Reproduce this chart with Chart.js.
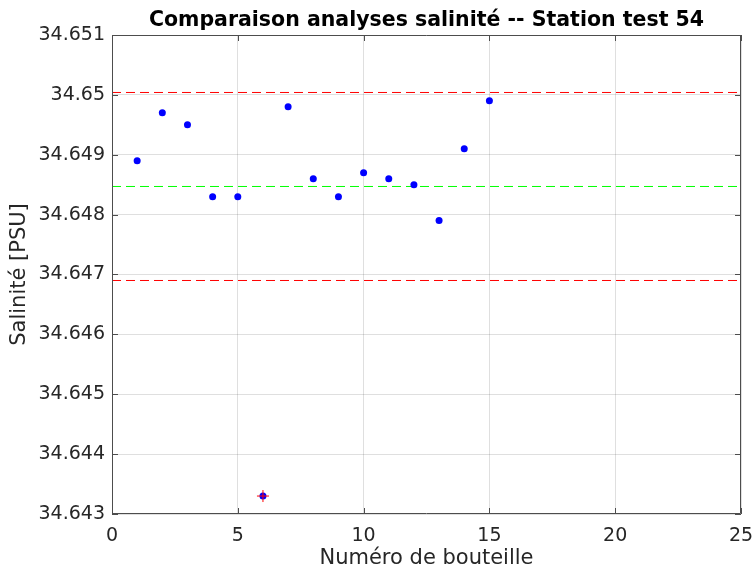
<!DOCTYPE html>
<html>
<head>
<meta charset="utf-8">
<title>Comparaison analyses salinité</title>
<script src="https://cdn.jsdelivr.net/npm/chart.js@4/dist/chart.umd.min.js"></script>
<style>
    html, body { margin: 0; padding: 0; background: #fff; }
    canvas { display: block; }
</style>
</head>
<body>
<canvas id="salinityChart" width="755" height="572"></canvas>
<script>
"use strict";

/** DATA */

// Bottle numbers and measured salinity (PSU)
const BOTTLES = [1, 2, 3, 4, 5, 6, 7, 8, 9, 10, 11, 12, 13, 14, 15];
const SALINITY = [
    34.6489, 34.6497, 34.6495, 34.6483, 34.6483,
    34.6433, 34.6498, 34.6486, 34.6483, 34.6487,
    34.6486, 34.6485, 34.6479, 34.6491, 34.6499
];

// Bottles flagged as out of range
const FLAGGED = [6];

// Reference levels: upper limit, mean, lower limit
const LIMIT_LEVELS = [34.65004, 34.64847, 34.6469];
const LIMIT_COLORS = ['#ff0000', '#00ff00', '#ff0000'];

// Axis ranges
const X_RANGE = [0, 25];
const Y_RANGE = [34.643, 34.651];
const X_STEP = 5;
const Y_STEP = 0.001;

const TITLE = 'Comparaison analyses salinité -- Station test 54';
const TEXT_COLOR = '#262626';
const AXIS_COLOR = '#4d4d4d';
const GRID_COLOR = 'rgba(38,38,38,0.15)';
const FONT = 'DejaVu Sans';


/** DATASETS */

const points = BOTTLES.map((b, i) => ({ x: b, y: SALINITY[i] }));
const flaggedPoints = points.filter(p => FLAGGED.includes(p.x));

const limitDatasets = LIMIT_LEVELS.map((level, i) => ({
    type: 'line',
    data: X_RANGE.map(x => ({ x: x, y: level })),
    borderColor: LIMIT_COLORS[i],
    borderWidth: 1,
    borderDash: [9, 5],
    pointRadius: 0,
    fill: false
}));


/** PLUGINS */

// Box around plot area with inward ticks, and a title centred on the plot
const axesBox = {
    id: 'axesBox',
    afterDraw: chart => {
        const { ctx, chartArea: a, scales: { x, y } } = chart;
        const TICK = 6;
        ctx.save();
        ctx.strokeStyle = AXIS_COLOR;
        ctx.lineWidth = 1;
        ctx.beginPath();
        ctx.rect(a.left + 0.5, a.top + 0.5, a.right - a.left - 1, a.bottom - a.top - 1);
        x.ticks.forEach(t => {
            const px = Math.round(x.getPixelForValue(t.value)) + 0.5;
            ctx.moveTo(px, a.bottom);
            ctx.lineTo(px, a.bottom - TICK);
            ctx.moveTo(px, a.top);
            ctx.lineTo(px, a.top + TICK);
        });
        y.ticks.forEach(t => {
            const py = Math.round(y.getPixelForValue(t.value)) + 0.5;
            ctx.moveTo(a.left, py);
            ctx.lineTo(a.left + TICK, py);
            ctx.moveTo(a.right, py);
            ctx.lineTo(a.right - TICK, py);
        });
        ctx.stroke();

        // Title
        ctx.fillStyle = '#000';
        ctx.font = `bold 20.5px "${ FONT }"`;
        ctx.textAlign = 'center';
        ctx.textBaseline = 'middle';
        ctx.fillText(TITLE, (a.left + a.right) / 2, 21);
        ctx.restore();
    }
};


/** INITIALIZE CHART */

Chart.defaults.font.family = FONT;
Chart.defaults.color = TEXT_COLOR;

const salinityChart = new Chart(document.getElementById('salinityChart').getContext('2d'), {
    type: 'scatter',
    data: {
        datasets: [
            {
                data: flaggedPoints,
                pointStyle: 'cross',
                pointRadius: 6,
                borderColor: '#ff0000',
                borderWidth: 1
            },
            {
                data: points,
                pointStyle: 'circle',
                pointRadius: 3.5,
                backgroundColor: '#0000ff',
                borderColor: '#0000ff',
                borderWidth: 0
            },
            ...limitDatasets
        ]
    },
    options: {
        responsive: false,
        animation: false,
        layout: {
            padding: { top: 35, right: 14, bottom: 0, left: 0 }
        },
        plugins: {
            legend: { display: false },
            tooltip: { enabled: false },
            title: { display: false }
        },
        scales: {
            x: {
                type: 'linear',
                min: X_RANGE[0],
                max: X_RANGE[1],
                ticks: {
                    stepSize: X_STEP,
                    font: { size: 19 },
                    padding: 11,
                    maxRotation: 0
                },
                grid: {
                    color: GRID_COLOR,
                    drawTicks: false
                },
                border: { display: false },
                title: {
                    display: true,
                    text: 'Numéro de bouteille',
                    font: { size: 21 },
                    padding: { top: 0, bottom: 0.5 }
                },
                afterFit: scale => {
                    scale.height = 58;
                    scale.paddingLeft = 0;
                    scale.paddingRight = 0;
                }
            },
            y: {
                type: 'linear',
                min: Y_RANGE[0],
                max: Y_RANGE[1],
                ticks: {
                    stepSize: Y_STEP,
                    font: { size: 19 },
                    padding: 7,
                    callback: v => String(parseFloat(v.toFixed(3)))
                },
                grid: {
                    color: GRID_COLOR,
                    drawTicks: false
                },
                border: { display: false },
                title: {
                    display: true,
                    text: 'Salinité [PSU]',
                    font: { size: 21 },
                    padding: { top: 7.4, bottom: 0 }
                },
                afterFit: scale => {
                    scale.width = 112;
                    scale.paddingTop = 0;
                    scale.paddingBottom = 0;
                }
            }
        }
    },
    plugins: [axesBox]
});
</script>
</body>
</html>
